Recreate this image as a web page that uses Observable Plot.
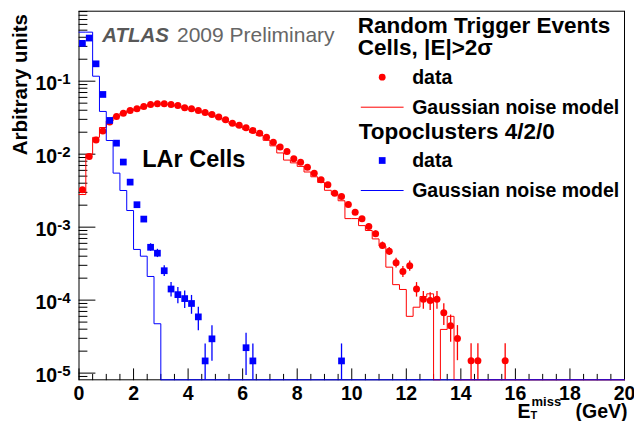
<!DOCTYPE html>
<html>
<head>
<meta charset="utf-8">
<script src="https://cdn.jsdelivr.net/npm/d3@7"></script>
<script src="https://cdn.jsdelivr.net/npm/@observablehq/plot@0.6"></script>
<style>
  html, body { margin: 0; padding: 0; background: #fff; }
</style>
</head>
<body>
<div id="chart"></div>
<script>
// ---------------- data ----------------
const BIN = 0.25; // GeV, histogram bin width

// Cells |E|>2sigma : data points (bin centre, value, error)
const redDataX = [0.125,0.375,0.625,0.875,1.125,1.375,1.625,1.875,2.125,2.375,2.625,2.875,3.125,3.375,3.625,3.875,4.125,4.375,4.625,4.875,5.125,5.375,5.625,5.875,6.125,6.375,6.625,6.875,7.125,7.375,7.625,7.875,8.125,8.375,8.625,8.875,9.125,9.375,9.625,9.875,10.125,10.375,10.625,10.875,11.125,11.375,11.625,11.875,12.125,12.375,12.625,12.875,13.125,13.375,13.625,13.875,14.375,14.625,15.625];
const redDataY = [3.25e-3,9.3e-3,0.0157,0.0207,0.0275,0.0328,0.0365,0.0397,0.0418,0.045,0.048,0.049,0.049,0.048,0.0464,0.0431,0.0418,0.0397,0.0373,0.035,0.0322,0.0296,0.0266,0.025,0.023,0.0211,0.0194,0.0171,0.0146,0.0125,0.0109,8.65e-3,7.77e-3,6.63e-3,5.49e-3,4.46e-3,3.81e-3,2.92e-3,2.63e-3,2.05e-3,1.6e-3,1.3e-3,1.02e-3,8.1e-4,5.61e-4,4.69e-4,3.25e-4,2.47e-4,2.96e-4,1.42e-4,1.03e-4,9.9e-5,1.03e-4,6.7e-5,4.45e-5,2.98e-5,1.48e-5,1.48e-5,1.48e-5];
const redDataErr = [1.55e-4,2.6e-4,3.4e-4,3.9e-4,4.5e-4,4.9e-4,5.2e-4,5.4e-4,5.6e-4,5.8e-4,6.0e-4,6.0e-4,6.0e-4,6.0e-4,5.9e-4,5.6e-4,5.6e-4,5.4e-4,5.3e-4,5.1e-4,4.9e-4,4.7e-4,4.4e-4,4.3e-4,4.1e-4,4.0e-4,3.8e-4,3.6e-4,3.3e-4,3.0e-4,2.8e-4,2.5e-4,2.4e-4,2.2e-4,2.0e-4,1.8e-4,1.7e-4,1.5e-4,1.4e-4,1.2e-4,1.1e-4,9.8e-5,8.7e-5,7.7e-5,6.4e-5,5.9e-5,4.9e-5,4.3e-5,4.7e-5,3.2e-5,2.8e-5,2.7e-5,2.8e-5,2.2e-5,1.8e-5,1.5e-5,1.05e-5,1.05e-5,1.05e-5];

// Cells |E|>2sigma : Gaussian noise model, one value per 0.25 GeV bin from 0; last value runs to 20 GeV
const redModel = [2.8e-3,0.0100,0.0170,0.0232,0.0285,0.0330,0.0365,0.0395,0.0418,0.0448,0.0475,0.0485,0.0485,0.0475,0.0455,0.0425,0.0410,0.0390,0.0365,0.0340,0.0312,0.0285,0.0258,0.0238,0.0218,0.0198,0.0180,0.0155,0.0130,0.0104,8.3e-3,7.6e-3,6.8e-3,5.7e-3,4.9e-3,4.1e-3,3.2e-3,2.8e-3,2.3e-3,1.31e-3,1.31e-3,1.05e-3,9.0e-4,6.9e-4,5.5e-4,2.83e-4,1.63e-4,1.40e-4,6.0e-5,8.0e-5,1.12e-4,1.22e-4,0,3.97e-5,6.0e-5,0];

// Topoclusters 4/2/0 : data points
const blueDataX = [0.125,0.375,0.625,0.875,1.125,1.375,1.625,1.875,2.125,2.375,2.625,2.875,3.125,3.375,3.625,3.875,4.125,4.375,4.625,4.875,6.125,6.375,9.625];
const blueDataY = [0.33,0.39,0.173,0.0658,0.029,0.01416,7.8e-3,4.14e-3,2.03e-3,1.29e-3,5.3e-4,4.4e-4,2.53e-4,1.42e-4,1.19e-4,1.05e-4,9.0e-5,5.9e-5,1.47e-5,2.95e-5,2.23e-5,1.47e-5,1.47e-5];
const blueDataErr = [1.6e-3,1.7e-3,1.1e-3,7.0e-4,4.6e-4,3.2e-4,2.4e-4,1.75e-4,1.2e-4,9.8e-5,6.3e-5,5.7e-5,4.3e-5,3.2e-5,3.0e-5,2.8e-5,2.6e-5,2.1e-5,1.04e-5,1.5e-5,1.3e-5,1.04e-5,1.04e-5];

// Topoclusters 4/2/0 : Gaussian noise model
const blueModel = [0.47,0.47,0.117,0.0385,0.0154,5.5e-3,3.18e-3,1.69e-3,4.95e-4,4.0e-4,2.11e-4,4.75e-5,0];

// axes
const X_END = 20;
const xTicks = [0,2,4,6,8,10,12,14,16,18,20];
const xMinorTicks = d3.range(0, 20.001, 0.5).filter(v => v % 2 !== 0);
const yTicks = [1e-5,1e-4,1e-3,1e-2,1e-1];
const yMinorTicks = [9e-6,
  2e-5,3e-5,4e-5,5e-5,6e-5,7e-5,8e-5,9e-5,
  2e-4,3e-4,4e-4,5e-4,6e-4,7e-4,8e-4,9e-4,
  2e-3,3e-3,4e-3,5e-3,6e-3,7e-3,8e-3,9e-3,
  2e-2,3e-2,4e-2,5e-2,6e-2,7e-2,8e-2,9e-2,
  0.2,0.3,0.4,0.5,0.6,0.7,0.8,0.9];
const Y_MIN = 8.1e-6, Y_MAX = 0.91;

// ---------------- layout ----------------
const ML = 78.5, MR = 10, MT = 10.7, MB = 41.7;
const RED = "#ff0000", BLUE = "#0000ff";
const clampY = v => Math.max(v, Y_MIN);

const redData = redDataX.map((x, i) => ({x, y: redDataY[i], e: redDataErr[i]}));
const blueData = blueDataX.map((x, i) => ({x, y: blueDataY[i], e: blueDataErr[i]}));
function stepPoints(vals) {
  const pts = vals.map((v, i) => ({x: i * BIN, y: v}));
  pts.push({x: X_END, y: vals[vals.length - 1]});
  return pts;
}

const lineShape = {draw(ctx, l) { ctx.moveTo(0, 0); ctx.lineTo(0, -l); }};

function label(str, x, baseline, fs, opts = {}) {
  return Plot.text([str], {
    text: d => d, frameAnchor: "top-left",
    dx: x - ML, dy: baseline - MT,
    lineAnchor: "bottom", textAnchor: "start",
    fontSize: fs, fontWeight: "bold", fill: "black", ...opts
  });
}
function legendLine(x, y, len, color) {
  return Plot.vector([0], {frameAnchor: "top-left", dx: x - ML, dy: y - MT, length: len, rotate: 90,
    anchor: "start", shape: lineShape, stroke: color, strokeWidth: 1});
}
function legendMarker(x, y, symbol, r, color) {
  return Plot.dot([0], {frameAnchor: "top-left", dx: x - ML, dy: y - MT, symbol, r, fill: color});
}

const chart = Plot.plot({
  width: 634, height: 421,
  marginLeft: ML, marginRight: MR, marginTop: MT, marginBottom: MB,
  x: {domain: [0, X_END], label: null},
  y: {type: "log", domain: [Y_MIN, Y_MAX], label: null},
  style: {fontFamily: "'Liberation Sans', Arial, Helvetica, sans-serif", background: "#fff", color: "#000"},
  marks: [
    Plot.frame({stroke: "black", strokeWidth: 1}),
    // inward ticks
    Plot.vector(yTicks, {y: d => d, frameAnchor: "left", length: 16, rotate: 90, anchor: "start", shape: lineShape, stroke: "black", strokeWidth: 1}),
    Plot.vector(yMinorTicks, {y: d => d, frameAnchor: "left", length: 8, rotate: 90, anchor: "start", shape: lineShape, stroke: "black", strokeWidth: 1}),
    Plot.vector(xTicks, {x: d => d, frameAnchor: "bottom", length: 11, rotate: 0, anchor: "start", shape: lineShape, stroke: "black", strokeWidth: 1}),
    Plot.vector(xMinorTicks, {x: d => d, frameAnchor: "bottom", length: 5.5, rotate: 0, anchor: "start", shape: lineShape, stroke: "black", strokeWidth: 1}),
    // tick labels
    Plot.axisX({ticks: xTicks, tickSize: 0, tickPadding: 6, fontSize: 19.5, fontWeight: "bold", label: null, tickFormat: d => String(d)}),
    Plot.axisY({ticks: yTicks, tickSize: 0, tickPadding: 8.5, fontSize: 19.5, fontWeight: "bold", label: null, dy: 3,
      tickFormat: d => "10^" + Math.round(Math.log10(d))}),
    // Cells |E|>2 sigma
    Plot.line(stepPoints(redModel), {x: "x", y: d => clampY(d.y), curve: "step-after", stroke: RED, strokeWidth: 1}),
    Plot.ruleX(redData, {x: "x", y1: d => clampY(d.y - d.e), y2: d => d.y + d.e, stroke: RED, strokeWidth: 1.3}),
    Plot.dot(redData, {x: "x", y: "y", r: 3.5, fill: RED}),
    // Topoclusters
    Plot.line(stepPoints(blueModel), {x: "x", y: d => clampY(d.y), curve: "step-after", stroke: BLUE, strokeWidth: 1}),
    Plot.ruleX(blueData, {x: "x", y1: d => clampY(d.y - d.e), y2: d => d.y + d.e, stroke: BLUE, strokeWidth: 1.3}),
    Plot.dot(blueData, {x: "x", y: "y", symbol: "square", r: 3.8, fill: BLUE}),
    // annotations
    label("ATLAS", 101.7, 41.7, 20.5, {fontStyle: "italic", fill: "#585858"}),
    label("2009 Preliminary", 176.5, 41.7, 21, {fontWeight: "normal", fill: "#666666"}),
    label("LAr Cells", 141.7, 166.7, 23.5),
    // legend
    label("Random Trigger Events", 357.3, 32, 22.5),
    label("Cells, |E|>2σ", 357.3, 54.5, 22.5),
    legendMarker(381.7, 76.7, "circle", 3.4, RED),
    label("data", 411.7, 83.3, 19.5),
    legendLine(360.7, 106.7, 42, RED),
    label("Gaussian noise model", 411.7, 113.3, 19.5),
    label("Topoclusters 4/2/0", 358.3, 138.3, 22.5),
    legendMarker(381.7, 160, "square", 3.8, BLUE),
    label("data", 411.7, 166.5, 19.5),
    legendLine(360.7, 190, 42, BLUE),
    label("Gaussian noise model", 411.7, 196.7, 19.5),
    // axis titles
    label("Arbitrary units", 26.4, 13.5, 20.5, {rotate: -90, textAnchor: "end"}),
    label("E", 517, 417.5, 19.5),
    label("T", 530, 418.5, 11),
    label("miss", 531, 405, 13),
    label("(GeV)", 627, 417.5, 19.5, {textAnchor: "end"})
  ]
});

// superscript exponents on the log-axis labels
chart.querySelectorAll('[aria-label="y-axis tick label"] text').forEach(t => {
  const s = t.textContent;
  const [base, exp] = s.split("^");
  t.textContent = base;
  const ts = document.createElementNS("http://www.w3.org/2000/svg", "tspan");
  ts.setAttribute("dy", "-0.42em");
  ts.setAttribute("font-size", "15");
  ts.textContent = exp;
  t.appendChild(ts);
});

document.getElementById("chart").appendChild(chart);
</script>
</body>
</html>
